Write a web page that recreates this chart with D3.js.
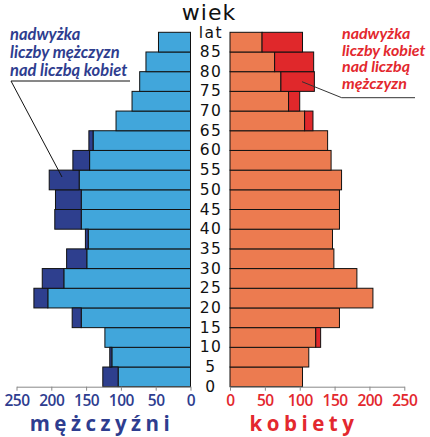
<!DOCTYPE html>
<html>
<head>
<meta charset="utf-8">
<script src="https://cdn.jsdelivr.net/npm/d3@7"></script>
<style>
  body { margin: 0; background: #fff; }
  svg { display: block; }
  .agelab { font-family: "DejaVu Sans", sans-serif; font-size: 15.5px; letter-spacing: 1.5px; fill: #111; }
  .tick text { font-family: "Open Sans", sans-serif; font-weight: 600; font-size: 15.5px; letter-spacing: -0.5px; }
  .note { font-family: Lato, "Open Sans", sans-serif; font-style: italic; font-weight: 700; font-size: 16.5px; }
  .sex { font-family: "Open Sans", sans-serif; font-weight: 700; font-size: 20.5px; letter-spacing: 4.5px; }
</style>
</head>
<body>
<div id="chart"></div>
<script>
// grupy wieku (dolna granica), liczebności
const ages = [0, 5, 10, 15, 20, 25, 30, 35, 40, 45, 50, 55, 60, 65, 70, 75, 80, 85];
const men = [126, 116, 123, 170, 225, 213, 178, 151, 195, 194, 203, 169, 146, 107, 84, 73, 64, 46];
const women = [104, 113, 130, 157, 205, 182, 149, 147, 157, 157, 160, 145, 140, 119, 100, 121, 120, 104];
const ticks = [0, 50, 100, 150, 200, 250];

const W = 430, H = 437;
const svg = d3.select("#chart").append("svg").attr("width", W).attr("height", H);

const xM = d3.scaleLinear().domain([0, 250]).range([190.5, 16.5]);
const xW = d3.scaleLinear().domain([0, 250]).range([230, 404.3]);
const y = d3.scaleBand().domain(ages.slice().reverse()).range([32.3, 386.7]).padding(0);

const rows = ages.map((a, i) => ({ age: a, m: men[i], w: women[i], lo: Math.min(men[i], women[i]) }));

const g = svg.append("g").attr("stroke", "#111").attr("stroke-width", 1);

// mężczyźni
g.selectAll("rect.ml").data(rows).join("rect")
  .attr("x", d => xM(d.lo)).attr("width", d => xM(0) - xM(d.lo))
  .attr("y", d => y(d.age)).attr("height", y.bandwidth())
  .attr("fill", "#41a6db");
g.selectAll("rect.md").data(rows.filter(d => d.m > d.w)).join("rect")
  .attr("x", d => xM(d.m)).attr("width", d => xM(d.lo) - xM(d.m))
  .attr("y", d => y(d.age)).attr("height", y.bandwidth())
  .attr("fill", "#2e3f8e");

// kobiety
g.selectAll("rect.wl").data(rows).join("rect")
  .attr("x", xW(0)).attr("width", d => xW(d.lo) - xW(0))
  .attr("y", d => y(d.age)).attr("height", y.bandwidth())
  .attr("fill", "#ec7b50");
g.selectAll("rect.wd").data(rows.filter(d => d.w > d.m)).join("rect")
  .attr("x", d => xW(d.lo)).attr("width", d => xW(d.w) - xW(d.lo))
  .attr("y", d => y(d.age)).attr("height", y.bandwidth())
  .attr("fill", "#e0282b");

// osie
const axM = svg.append("g").attr("transform", `translate(0,${y.range()[1]})`)
  .call(d3.axisBottom(xM).tickValues(ticks).tickSize(4).tickSizeOuter(0).tickPadding(4));
const axW = svg.append("g").attr("transform", `translate(0,${y.range()[1]})`)
  .call(d3.axisBottom(xW).tickValues(ticks).tickSize(4).tickSizeOuter(0).tickPadding(4));
[axM, axW].forEach(ax => {
  ax.select(".domain").attr("stroke", "#888");
  ax.selectAll(".tick line").attr("stroke", "#888");
});
axM.selectAll(".tick text").attr("fill", "#2e3d8f");
axW.selectAll(".tick text").attr("fill", "#e3282e");

// etykiety wieku
const cx = 211;
svg.selectAll("text.agelab").data(ages).join("text")
  .attr("class", "agelab")
  .attr("x", cx).attr("y", d => y(d) + y.bandwidth())
  .attr("text-anchor", "middle").attr("dominant-baseline", "central")
  .text(d => d);
svg.append("text").attr("class", "agelab")
  .attr("x", cx).attr("y", y(85) + 1).attr("text-anchor", "middle").attr("dominant-baseline", "central")
  .text("lat");
svg.append("text").attr("class", "agelab").style("font-size", "22px").style("letter-spacing", "1px")
  .attr("x", 209).attr("y", 20).attr("text-anchor", "middle")
  .text("wiek");

// podpisy płci
svg.append("text").attr("class", "sex").attr("fill", "#2e3d8f")
  .attr("x", 102).attr("y", 431).attr("text-anchor", "middle").text("mężczyźni");
svg.append("text").attr("class", "sex").attr("fill", "#e3282e")
  .attr("x", 304).attr("y", 431).attr("text-anchor", "middle").text("kobiety");

// opisy nadwyżek
const noteM = ["nadwyżka", "liczby mężczyzn", "nad liczbą kobiet"];
svg.append("g").selectAll("text").data(noteM).join("text")
  .attr("class", "note").attr("fill", "#2e3d8f")
  .attr("x", 10).attr("y", (d, i) => 40 + i * 18).text(d => d);
svg.append("path").attr("fill", "none").attr("stroke", "#111").attr("stroke-width", 1)
  .attr("d", "M130,81H11L62,177");

const noteW = ["nadwyżka", "liczby kobiet", "nad liczbą", "mężczyzn"];
svg.append("g").selectAll("text").data(noteW).join("text")
  .attr("class", "note").attr("fill", "#e3282e").style("font-size", "16px")
  .attr("x", 342).attr("y", (d, i) => 39 + i * 16.5).text(d => d);
svg.append("path").attr("fill", "none").attr("stroke", "#333").attr("stroke-width", 1)
  .attr("d", "M415,97.7H341.7L302,81.7");
</script>
</body>
</html>
